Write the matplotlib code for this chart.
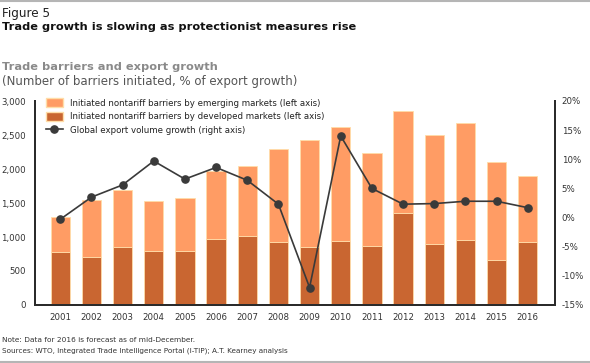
import matplotlib
matplotlib.use("Agg")
import matplotlib.pyplot as plt
import numpy as np
from matplotlib.patches import Patch
from matplotlib.lines import Line2D

years = ["2001", "2002", "2003", "2004", "2005", "2006", "2007", "2008",
         "2009", "2010", "2011", "2012", "2013", "2014", "2015", "2016"]
total_barriers = [1290, 1540, 1690, 1530, 1580, 1970, 2040, 2300,
                  2430, 2620, 2230, 2850, 2500, 2670, 2100, 1900]
developed = [780, 710, 860, 800, 800, 970, 1010, 925,
             860, 940, 870, 1360, 900, 960, 660, 930]
emerging = [t - d for t, d in zip(total_barriers, developed)]
export_growth = [-0.3, 3.5, 5.6, 9.7, 6.6, 8.6, 6.4, 2.3,
                 -12.0, 14.0, 5.0, 2.3, 2.4, 2.8, 2.8, 1.7]
left_ticks = [0, 500, 1000, 1500, 2000, 2500, 3000]
right_ticks = [-15, -10, -5, 0, 5, 10, 15, 20]

FONT = ['DejaVu Sans']
plt.rcParams['font.family'] = FONT
plt.rcParams['axes.unicode_minus'] = False

C_EM = "#FF9C64"
C_DEV = "#C96631"
C_EDGE = "#FFDDA8"
C_LINE = "#3A3A3A"

fig = plt.figure(figsize=(5.9, 3.63), dpi=100)
renderer = fig.canvas.get_renderer()


def fit_text(t, target_px):
    for _ in range(3):
        w = t.get_window_extent(renderer=renderer).width
        t.set_fontsize(t.get_fontsize() * target_px / w)


ax = fig.add_axes([35/590, 58/363, 520/590, 204/363])
x = np.arange(len(years))
w = 0.62
ax.bar(x, developed, w, color=C_DEV, edgecolor=C_EDGE, linewidth=0.6, zorder=2)
ax.bar(x, emerging, w, bottom=developed, color=C_EM, edgecolor=C_EDGE, linewidth=0.6, zorder=2)
ax.set_xlim(-0.81, 15.875)
ax.set_ylim(0, 3000)
ax.set_yticks(left_ticks)
ax.set_yticklabels([f"{v:,}" for v in left_ticks])
ax.set_xticks(x)
ax.set_xticklabels(years)
ax.tick_params(length=0, labelsize=6.2, colors="#333333", pad=6.5)
ax.tick_params(axis='x', pad=6)
ax.spines["top"].set_visible(False)
for s in ["left", "bottom", "right"]:
    ax.spines[s].set_color("#2b2b2b")
    ax.spines[s].set_linewidth(1.4)

ax2 = ax.twinx()
ax2.plot(x, export_growth, color=C_LINE, lw=1.2, marker="o", ms=5.2, zorder=3)
ax2.set_ylim(-15, 20)
ax2.set_yticks(right_ticks)
ax2.set_yticklabels([f"{v}%" for v in right_ticks])
ax2.tick_params(length=0, labelsize=6.2, colors="#333333", pad=4.8)
ax2.spines["top"].set_visible(False)
for s in ["left", "bottom", "right"]:
    ax2.spines[s].set_color("#2b2b2b")
    ax2.spines[s].set_linewidth(1.4)

handles = [Patch(facecolor=C_EM, edgecolor=C_EDGE),
           Patch(facecolor=C_DEV, edgecolor=C_EDGE),
           Line2D([0], [0], color=C_LINE, lw=1.2, marker="o", ms=5.2)]
labels = ["Initiated nontariff barriers by emerging markets (left axis)",
          "Initiated nontariff barriers by developed markets (left axis)",
          "Global export volume growth (right axis)"]
leg = ax2.legend(handles, labels, loc="upper left", bbox_to_anchor=(0.015, 1.03),
                 frameon=False, fontsize=6.2, handlelength=1.9, handleheight=1.2,
                 labelspacing=0.5, handletextpad=0.9, borderaxespad=0)
for t in leg.get_texts():
    t.set_color("#222222")

t1 = fig.text(2/590, 1 - 14/363, "Figure 5", fontsize=8, color="#222222", va="center")
fit_text(t1, 48)
t2 = fig.text(2/590, 1 - 27/363, "Trade growth is slowing as protectionist measures rise",
              fontsize=8, fontweight="bold", color="#111111", va="center")
fit_text(t2, 350)
t3 = fig.text(2/590, 1 - 67/363, "Trade barriers and export growth",
              fontsize=8, fontweight="bold", color="#8a8a8a", va="center")
fit_text(t3, 213)
t4 = fig.text(2/590, 1 - 81/363, "(Number of barriers initiated, % of export growth)",
              fontsize=8, color="#555555", va="center")
fit_text(t4, 293)
t5 = fig.text(2/590, 1 - 340/363, "Note: Data for 2016 is forecast as of mid-December.",
              fontsize=5.3, color="#333333", va="center")
fit_text(t5, 190)
t6 = fig.text(2/590, 1 - 351/363,
              "Sources: WTO, Integrated Trade Intelligence Portal (I-TIP); A.T. Kearney analysis",
              fontsize=5.3, color="#333333", va="center")
fit_text(t6, 291)

fig.add_artist(Line2D([0, 1], [1 - 1/363, 1 - 1/363], color="#b5b5b5", lw=1.5,
                      transform=fig.transFigure))
fig.add_artist(Line2D([0, 1], [1 - 362/363, 1 - 362/363], color="#b5b5b5", lw=1.5,
                      transform=fig.transFigure))

fig.savefig("out.png", dpi=100)
